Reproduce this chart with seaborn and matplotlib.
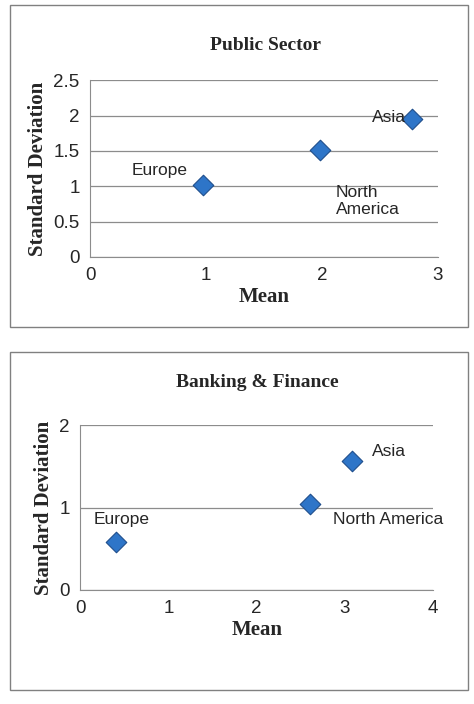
import matplotlib
matplotlib.use("Agg")
import matplotlib.pyplot as plt
import seaborn as sns
import pandas as pd
from matplotlib.patches import Rectangle

regions = ["Europe", "North America", "Asia"]
public_mean = [0.97, 1.98, 2.78]
public_sd = [1.02, 1.51, 1.95]
bank_mean = [0.41, 2.60, 3.08]
bank_sd = [0.58, 1.04, 1.56]

sns.set_style("white")
serif = "Liberation Serif"
sans = "Liberation Sans"

fig = plt.figure(figsize=(4.74, 7.04), dpi=100)
for r in [(0.021, 0.536, 0.966, 0.457), (0.021, 0.020, 0.966, 0.480)]:
    fig.patches.append(Rectangle(r[:2], r[2], r[3], transform=fig.transFigure,
                                 fill=False, edgecolor="#808080", lw=1))

def panel(rect, x, y, xlim, ylim, xticks, yticks, labels, title, tx, ty):
    ax = fig.add_axes(rect)
    df = pd.DataFrame({"x": x, "y": y})
    sns.scatterplot(data=df, x="x", y="y", marker="D", s=110, color="#2E75C8",
                    edgecolor="#1F4E8C", linewidth=0.8, ax=ax, zorder=3)
    ax.set_xlim(*xlim)
    ax.set_ylim(*ylim)
    ax.set_xticks(xticks)
    ax.set_yticks(yticks)
    ax.set_yticklabels([f"{v:g}" for v in yticks])
    ax.grid(axis="y", color="#8c8c8c", lw=0.9)
    ax.set_axisbelow(True)
    for s in ["top", "right"]:
        ax.spines[s].set_visible(False)
    for s in ["left", "bottom"]:
        ax.spines[s].set_color("#8c8c8c")
    ax.tick_params(axis="both", labelsize=13.5, length=4, color="#8c8c8c",
                   direction="out", left=False, bottom=False)
    for t in ax.get_xticklabels() + ax.get_yticklabels():
        t.set_fontfamily(sans)
    ax.set_xlabel("Mean", fontfamily=serif, fontweight="bold", fontsize=15, labelpad=2)
    ax.set_ylabel("Standard Deviation", fontfamily=serif, fontweight="bold", fontsize=15)
    for (lx, ly, txt, ha) in labels:
        ax.text(lx, ly, txt, ha=ha, va="center", fontsize=12.5, fontfamily=sans)
    fig.text(tx, ty, title, ha="center", va="center", fontfamily=serif,
             fontweight="bold", fontsize=14)
    return ax

panel([0.19, 0.635, 0.734, 0.251], public_mean, public_sd, (0, 3), (0, 2.5),
      [0, 1, 2, 3], [0, 0.5, 1, 1.5, 2, 2.5],
      [(0.36, 1.23, "Europe", "left"), (2.12, 0.79, "North\nAmerica", "left"),
       (2.72, 1.98, "Asia", "right")],
      "Public Sector", 0.56, 0.936)

panel([0.169, 0.162, 0.745, 0.234], bank_mean, bank_sd, (0, 4), (0, 2),
      [0, 1, 2, 3, 4], [0, 1, 2],
      [(0.15, 0.86, "Europe", "left"), (2.86, 0.86, "North America", "left"),
       (3.31, 1.68, "Asia", "left")],
      "Banking & Finance", 0.542, 0.457)

fig.savefig("out.png", dpi=100)
